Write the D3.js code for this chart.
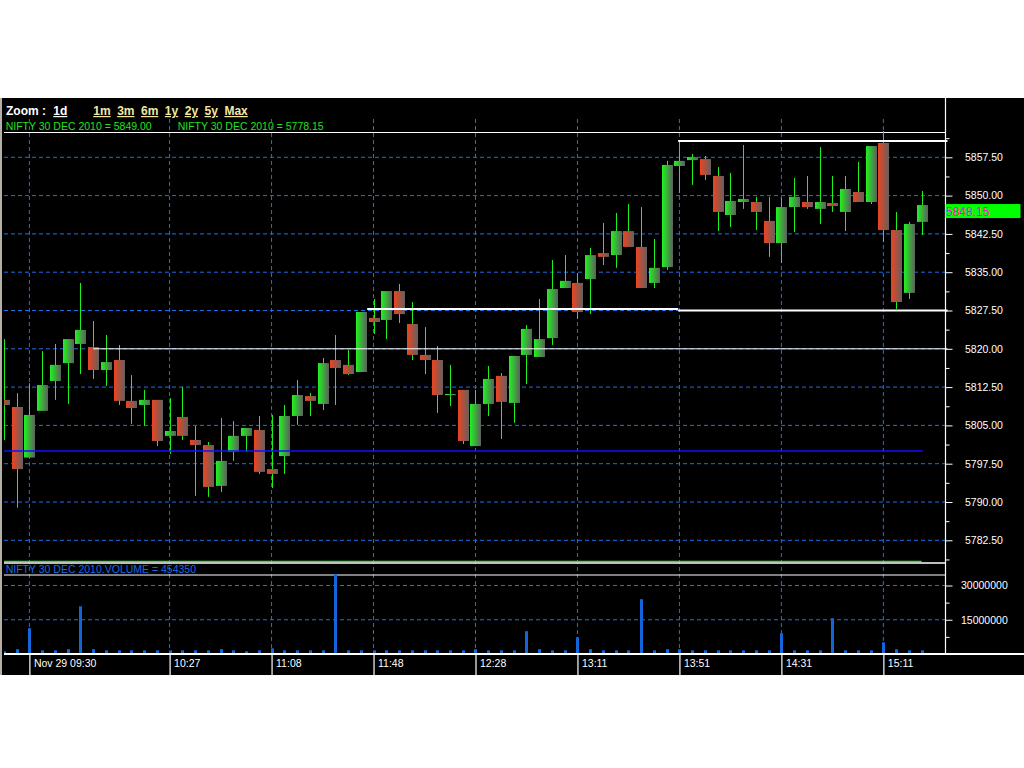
<!DOCTYPE html>
<html><head><meta charset="utf-8">
<script src="https://cdn.jsdelivr.net/npm/d3@7"></script>
<style>
html,body{margin:0;padding:0;background:#fff;}
svg{display:block;}
text{font-family:"Liberation Sans",Arial,sans-serif;}
</style>
</head><body>
<svg id="c" width="1024" height="768"></svg>
<script>
// ---------- DATA ----------
const opens = [5810.0,5808.6,5798.7,5807.85,5813.7,5817.2,5820.95,5820.35,5815.85,5817.8,5809.8,5809.0,5810.0,5802.95,5806.65,5802.15,5801.15,5793.15,5799.8,5802.95,5804.1,5796.45,5799.0,5806.85,5810.75,5809.2,5817.8,5816.85,5815.45,5826.05,5825.65,5831.3,5824.85,5818.8,5817.8,5811.05,5811.95,5800.95,5809.2,5814.7,5809.4,5818.8,5818.4,5822.1,5831.9,5832.9,5833.65,5838.75,5838.35,5843.05,5839.95,5832.9,5836.0,5855.8,5856.95,5857.15,5853.85,5846.2,5848.75,5848.75,5845.05,5840.7,5847.75,5848.75,5847.4,5848.55,5846.8,5850.7,5848.75,5860.3,5843.25,5830.95,5844.85];
const highs = [5821.9,5811.3,5813.25,5819.55,5820.95,5821.9,5832.9,5825.45,5822.7,5820.75,5814.85,5811.95,5810.0,5810.35,5812.55,5804.9,5801.75,5806.45,5805.85,5804.5,5806.85,5807.05,5809.0,5813.9,5811.35,5818.2,5822.7,5819.75,5827.2,5829.75,5831.3,5832.7,5829.15,5824.25,5820.55,5816.85,5811.95,5811.95,5816.65,5815.25,5818.6,5824.65,5829.75,5837.4,5838.35,5834.85,5839.75,5844.65,5846.6,5848.35,5847.75,5841.5,5856.8,5860.9,5858.15,5857.75,5855.6,5854.45,5859.9,5849.75,5849.75,5849.55,5853.45,5853.85,5859.5,5853.85,5853.85,5856.6,5859.7,5862.65,5846.8,5844.85,5850.9];
const lows = [5802.15,5788.9,5798.7,5807.85,5810.0,5809.2,5815.05,5814.1,5812.7,5809.0,5805.3,5804.9,5800.95,5799.4,5802.15,5791.2,5791.0,5791.95,5798.05,5799.8,5795.5,5792.75,5795.5,5805.1,5806.85,5808.0,5809.0,5814.85,5815.45,5822.9,5821.9,5825.05,5817.8,5815.05,5807.45,5808.8,5801.35,5800.95,5806.85,5802.35,5805.5,5813.1,5818.4,5820.75,5831.9,5825.85,5826.8,5836.4,5835.85,5839.95,5831.9,5831.9,5835.45,5850.5,5852.1,5853.05,5843.05,5843.85,5847.4,5843.25,5838.0,5836.8,5842.85,5847.4,5844.45,5846.8,5843.05,5848.75,5848.35,5840.9,5827.8,5829.75,5842.3];
const closes = [5809.0,5796.45,5807.05,5812.9,5816.85,5821.9,5823.7,5815.85,5817.4,5809.8,5808.4,5810.0,5801.95,5803.9,5802.95,5801.15,5792.95,5798.05,5802.95,5804.5,5795.9,5795.5,5806.85,5810.95,5809.8,5817.2,5816.25,5815.05,5827.2,5825.25,5831.3,5826.8,5818.8,5817.8,5810.95,5811.15,5801.95,5809.2,5814.1,5809.6,5818.6,5823.9,5821.9,5831.7,5833.3,5827.2,5838.35,5838.0,5843.05,5839.95,5831.9,5835.85,5856.0,5856.8,5857.55,5854.05,5846.8,5848.95,5849.35,5846.8,5840.7,5847.75,5849.75,5847.75,5848.75,5847.95,5851.3,5848.75,5859.7,5843.25,5829.15,5844.45,5848.15];
const volumes = [1200000,2100000,11300000,1600000,1600000,2100000,20900000,2100000,
 1600000,1600000,1600000,1600000,1600000,1600000,1600000,1600000,1600000,
 2100000,1600000,1200000,1600000,2500000,
 1600000,1600000,1600000,1600000,35000000,
 1600000,1600000,1600000,1600000,1600000,1600000,1600000,1600000,1600000,1600000,
 2100000,1600000,1600000,1600000,10000000,2100000,1600000,1600000,7300000,2100000,
 1600000,1600000,1600000,24000000,1600000,2100000,2100000,
 1600000,1600000,1600000,1600000,1600000,1600000,1600000,9100000,
 1600000,1600000,1600000,15700000,1600000,1600000,1600000,5100000,2100000,1600000,1600000];

const timeTickIndex = [2,13,21,29,37,45,53,61,69];
const timeTickLabels = ["Nov 29 09:30","10:27","11:08","11:48","12:28","13:11","13:51","14:31","15:11"];
const priceTicks = [5782.5,5790,5797.5,5805,5812.5,5820,5827.5,5835,5842.5,5850,5857.5];
const volumeTicks = [15000000,30000000];
const zoomLinks = ["1d","1m","3m","6m","1y","2y","5y","Max"];
const legendTexts = ["NIFTY 30 DEC 2010 = 5849.00","NIFTY 30 DEC 2010 = 5778.15"];
const volumeLegend = "NIFTY 30 DEC 2010.VOLUME = 454350";
// drawn study lines: [price, fromIndex, toIndex(null = axis)]
const prevCloseLine = {price:5800.0, from:0, to:72.1};
const whiteLevels = [
  {price:5860.7, from:52.9, to:null, w:2},
  {price:5827.8, from:28.5, to:52.9, w:2},
  {price:5827.5, from:52.9, to:null, w:2},
  {price:5820.0, from:7.0, to:null, w:1}
];

// ---------- LAYOUT ----------
const svg = d3.select("#c");
const AX = 945.5, PL = 4;
const x = d3.scaleLinear().domain([0,72]).range([3.9,921.6]);
const y = d3.scaleLinear().domain([5782.5,5857.5]).range([540.3,157.3]);
const yv = d3.scaleLinear().domain([0,30000000]).range([654,585.5]);
const BLUE = "#1e6fe8", GREEN = "#22ee22";

svg.append("rect").attr("x",0).attr("y",98).attr("width",1024).attr("height",577).attr("fill","#000");
svg.append("rect").attr("x",0).attr("y",98).attr("width",2).attr("height",577).attr("fill","#b4aea6");

const defs = svg.append("defs");
function grad(id,c0,c1){
  const g = defs.append("linearGradient").attr("id",id).attr("x1","0%").attr("x2","100%").attr("y1","0%").attr("y2","0%");
  g.append("stop").attr("offset","0%").attr("stop-color",c0);
  g.append("stop").attr("offset","100%").attr("stop-color",c1);
}
grad("gUp","#1ef41e","#5e5e5e");
grad("gDn","#ec4420","#646060");
defs.append("clipPath").attr("id","clipP").append("rect").attr("x",PL).attr("y",118).attr("width",AX-PL).attr("height",443);
defs.append("clipPath").attr("id","clipV").append("rect").attr("x",PL).attr("y",574).attr("width",AX-PL).attr("height",80);

// header
const hdr = svg.append("g");
hdr.append("text").attr("x",6).attr("y",115).attr("fill","#fff").attr("font-weight","bold").attr("font-size",12).text("Zoom :");
let lx = 53.3;
zoomLinks.forEach((t,i)=>{
  const tt = hdr.append("text").attr("x",lx).attr("y",115).attr("fill", i===0?"#fff":"#f2e8a2")
    .attr("font-weight","bold").attr("font-size",12).attr("text-decoration","underline").text(t);
  lx += tt.node().getComputedTextLength() + (i===0 ? 26 : 6.5);
});
legendTexts.forEach((t,i)=>{
  svg.append("text").attr("x", i===0?5.7:177.7).attr("y",129.5).attr("fill","#22e022").attr("font-size",10.5).text(t);
});

// grids
const grid = svg.append("g");
grid.selectAll(".hg").data(priceTicks).join("line")
  .attr("x1",PL).attr("x2",AX).attr("y1",d=>y(d)).attr("y2",d=>y(d))
  .attr("stroke",BLUE).attr("stroke-dasharray","4,3");
grid.selectAll(".vg").data(timeTickIndex).join("line")
  .attr("x1",d=>x(d)).attr("x2",d=>x(d)).attr("y1",119).attr("y2",654)
  .attr("stroke",BLUE).attr("stroke-dasharray","4,3");
grid.selectAll(".vvg").data(volumeTicks).join("line")
  .attr("x1",PL).attr("x2",AX).attr("y1",d=>yv(d)).attr("y2",d=>yv(d))
  .attr("stroke",BLUE).attr("stroke-dasharray","4,3");

// panel borders
svg.append("line").attr("x1",PL).attr("x2",AX).attr("y1",132.5).attr("y2",132.5).attr("stroke","#fff").attr("stroke-width",1.2);
svg.append("line").attr("x1",PL).attr("x2",x(72)).attr("y1",561.3).attr("y2",561.3).attr("stroke",GREEN).attr("stroke-width",1.3);
svg.append("line").attr("x1",PL).attr("x2",AX).attr("y1",563).attr("y2",563).attr("stroke","#fff").attr("stroke-width",1.3);
svg.append("line").attr("x1",PL).attr("x2",AX).attr("y1",575).attr("y2",575).attr("stroke","#fff").attr("stroke-width",1.2);

// candles
const idx = d3.range(opens.length);
const cg = svg.append("g").attr("clip-path","url(#clipP)");
cg.selectAll(".wick").data(idx).join("line")
  .attr("x1",i=>Math.round(x(i))+0.5).attr("x2",i=>Math.round(x(i))+0.5)
  .attr("y1",i=>y(highs[i])).attr("y2",i=>y(lows[i]))
  .attr("stroke","#1ef01e").attr("stroke-width",1);
cg.selectAll(".body").data(idx).join("rect")
  .attr("x",i=>Math.round(x(i))-5).attr("width",11)
  .attr("y",i=>y(Math.max(opens[i],closes[i])))
  .attr("height",i=>Math.max(1.2, Math.abs(y(opens[i])-y(closes[i]))))
  .attr("fill",i=>closes[i]>=opens[i]?"url(#gUp)":"url(#gDn)");

// study lines (over candles)
cg.append("line").attr("x1",x(prevCloseLine.from)).attr("x2",x(prevCloseLine.to))
  .attr("y1",y(prevCloseLine.price)).attr("y2",y(prevCloseLine.price)).attr("stroke","#1010ff").attr("stroke-width",1.6);
whiteLevels.forEach(l=>{
  svg.append("line").attr("x1",x(l.from)).attr("x2",l.to===null?AX+2:x(l.to))
    .attr("y1",y(l.price)).attr("y2",y(l.price)).attr("stroke","#fff").attr("stroke-width",l.w);
});

// volume
const vg = svg.append("g").attr("clip-path","url(#clipV)");
vg.selectAll("rect").data(idx).join("rect")
  .attr("x",i=>Math.round(x(i))-1).attr("width",3)
  .attr("y",i=>yv(volumes[i])).attr("height",i=>yv(0)-yv(volumes[i]))
  .attr("fill","#1464dc");
svg.append("text").attr("x",5.7).attr("y",573).attr("fill","#1a6ae6").attr("font-size",10.5).text(volumeLegend);

// axes
svg.append("line").attr("x1",AX).attr("x2",AX).attr("y1",98).attr("y2",654).attr("stroke","#fff").attr("stroke-width",1.2);
svg.append("line").attr("x1",PL).attr("x2",1024).attr("y1",654).attr("y2",654).attr("stroke","#fff").attr("stroke-width",2);

const minorP = [];
priceTicks.forEach(t=>{ minorP.push(t-3.75); });
minorP.push(5861.25);
const pMinor = svg.append("g").attr("transform",`translate(${AX},0)`)
  .call(d3.axisRight(y).tickValues(minorP).tickSize(4).tickFormat(""));
const pMajor = svg.append("g").attr("transform",`translate(${AX},0)`)
  .call(d3.axisRight(y).tickValues(priceTicks).tickSize(7).tickPadding(12.5).tickFormat(d3.format(".2f")));
const vMinor = svg.append("g").attr("transform",`translate(${AX},0)`)
  .call(d3.axisRight(yv).tickValues([7500000,22500000]).tickSize(4).tickFormat(""));
const vMajor = svg.append("g").attr("transform",`translate(${AX},0)`)
  .call(d3.axisRight(yv).tickValues(volumeTicks).tickSize(7).tickPadding(8.5).tickFormat(d3.format("d")));
const tAxis = svg.append("g").attr("transform","translate(0,654)")
  .call(d3.axisBottom(x).tickValues(timeTickIndex).tickSize(21).tickFormat((d,i)=>timeTickLabels[i]));
[pMinor,pMajor,vMinor,vMajor,tAxis].forEach(g=>{
  g.select(".domain").remove();
  g.selectAll("line").attr("stroke","#fff");
  g.selectAll("text").attr("fill","#fff").attr("font-size",10.5).attr("font-family","Liberation Sans, Arial, sans-serif");
});
tAxis.selectAll(".tick line").attr("stroke-width",1.2);
tAxis.selectAll("text").attr("text-anchor","start").attr("x",4).attr("y",6);

// last price tag
const last = closes[closes.length-1];
const ly = y(last);
svg.append("rect").attr("x",AX).attr("y",ly-1).attr("width",75).attr("height",14).attr("fill","#00ff00");
svg.append("text").attr("x",AX+0.5).attr("y",ly+10.5).attr("fill","#ff00ff").attr("font-size",12).text(d3.format(".2f")(last));
</script>
</body></html>
